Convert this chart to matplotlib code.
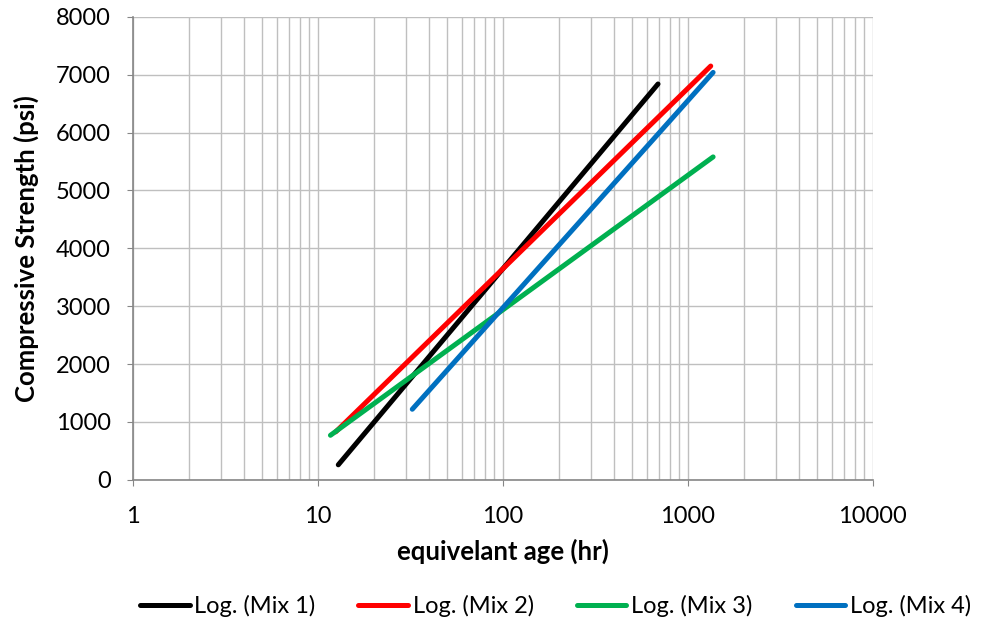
import matplotlib.pyplot as plt
from matplotlib.ticker import LogLocator, FixedLocator, NullFormatter, FuncFormatter

# logarithmic trend lines as (start, end) points
series_names = ['Log. (Mix 1)', 'Log. (Mix 2)', 'Log. (Mix 3)', 'Log. (Mix 4)']
series_colors = ['#000000', '#ff0000', '#00b050', '#0070c0']
age_start = [12.9, 12.5, 11.7, 32.4]
age_end = [690, 1330, 1370, 1370]
strength_start = [260, 830, 770, 1220]
strength_end = [6840, 7150, 5580, 7040]

plt.rcParams['font.family'] = ['Lato', 'DejaVu Sans']
fs = 17

fig = plt.figure(figsize=(9.84, 6.24), dpi=100)
ax = fig.add_axes([0.135, 0.231, 0.752, 0.742])

for name, color, x0, x1, y0, y1 in zip(series_names, series_colors, age_start,
                                        age_end, strength_start, strength_end):
    ax.plot([x0, x1], [y0, y1], color=color, lw=3.6, solid_capstyle='round',
            label=name, zorder=3)

ax.set_xscale('log')
ax.set_xlim(1, 10000)
ax.set_ylim(0, 8000)
ax.yaxis.set_major_locator(FixedLocator(range(0, 8001, 1000)))
ax.xaxis.set_major_locator(LogLocator(base=10, numticks=10))
ax.xaxis.set_minor_locator(LogLocator(base=10, subs=range(2, 10), numticks=20))
ax.xaxis.set_minor_formatter(NullFormatter())
ax.xaxis.set_major_formatter(FuncFormatter(lambda v, p: f'{v:.0f}'))

grid_color = '#bfbfbf'
ax.grid(True, which='major', axis='both', color=grid_color, lw=1)
ax.grid(True, which='minor', axis='x', color=grid_color, lw=1)
ax.set_axisbelow(True)

for side in ['top', 'right']:
    ax.spines[side].set_visible(False)
for side in ['left', 'bottom']:
    ax.spines[side].set_color('#868686')
    ax.spines[side].set_linewidth(1.2)

ax.tick_params(axis='both', which='major', length=4, color='#868686',
               labelsize=fs)
ax.tick_params(axis='y', which='major', pad=12)
ax.tick_params(axis='x', which='minor', length=0)
ax.tick_params(axis='x', which='major', pad=15)

ax.set_xlabel('equivelant age (hr)', fontsize=18.5, fontweight='bold', labelpad=8)
ax.set_ylabel('Compressive Strength (psi)', fontsize=18.5, fontweight='bold', labelpad=12)

fig.legend(loc='lower center', bbox_to_anchor=(0.5645, -0.023), ncol=4, frameon=False,
           fontsize=fs, handlelength=2.1, handletextpad=0.2, columnspacing=1.82)

fig.savefig('out.png', dpi=100)
